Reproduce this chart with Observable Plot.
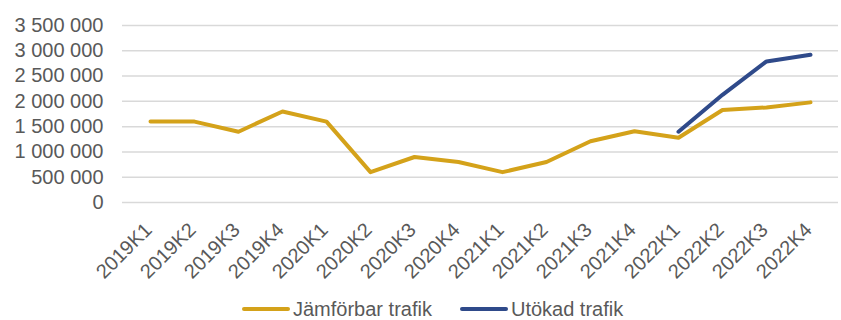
<!DOCTYPE html>
<html><head><meta charset="utf-8">
<script src="https://cdn.jsdelivr.net/npm/d3@7"></script>
<script src="https://cdn.jsdelivr.net/npm/@observablehq/plot@0.6"></script>
<style>
body{margin:0;background:#fff;font-family:"Liberation Sans",Arial,sans-serif;overflow:hidden;}
#chart svg{display:block}
#legend{display:flex;justify-content:flex-start;gap:28px;height:22px;line-height:22px;font-size:20px;color:#595959;padding-left:242px}
.item{display:flex;align-items:center}
.sw{width:48px;height:4px;border-radius:2px;margin-right:3px}
</style></head><body><div id="chart"></div><div id="legend"></div>
<script>
const quarters = ["2019K1","2019K2","2019K3","2019K4","2020K1","2020K2","2020K3","2020K4","2021K1","2021K2","2021K3","2021K4","2022K1","2022K2","2022K3","2022K4"];
const jamforbar = [1600000,1600000,1400000,1800000,1600000,600000,900000,800000,600000,800000,1210000,1410000,1280000,1830000,1880000,1980000];
const utokadQuarters = ["2022K1","2022K2","2022K3","2022K4"];
const utokad = [1400000,2130000,2790000,2920000];
const series = ["Jämförbar trafik","Utökad trafik"];
const colors = ["#D4A21A","#2F4A8A"];
const yTicks = [0,500000,1000000,1500000,2000000,2500000,3000000,3500000];

const data = [
  ...quarters.map((q,i)=>({q, v: jamforbar[i], s: series[0]})),
  ...utokadQuarters.map((q,i)=>({q, v: utokad[i], s: series[1]}))
];
const fmt = d => d3.format(",")(d).replace(/,/g, " ");

const chart = Plot.plot({
  width: 841, height: 298,
  marginLeft: 122, marginRight: 3, marginTop: 25, marginBottom: 96,
  style: {fontFamily: "Liberation Sans, Arial, sans-serif", fontSize: "20px", color: "#595959", background: "#fff"},
  x: {type: "point", domain: quarters, padding: 0.5},
  y: {domain: [0, 3500000]},
  color: {domain: series, range: colors},
  marks: [
    Plot.gridY(yTicks, {stroke: "#d9d9d9", strokeOpacity: 1, strokeWidth: 1.5}),
    Plot.axisY(yTicks, {tickSize: 0, tickPadding: 19, tickFormat: fmt, fontSize: 20, label: null}),
    Plot.axisX({tickSize: 0, tickRotate: -45, tickPadding: 24, dx: -2, fontSize: 20, label: null}),
    Plot.line(data, {x: "q", y: "v", z: "s", stroke: "s", strokeWidth: 4, strokeLinejoin: "round", strokeLinecap: "round"})
  ]
});
document.getElementById("chart").appendChild(chart);

const legend = document.getElementById("legend");
series.forEach((s,i) => {
  const it = document.createElement("div"); it.className = "item";
  const sw = document.createElement("span"); sw.className = "sw"; sw.style.background = colors[i];
  const t = document.createElement("span"); t.textContent = s;
  it.appendChild(sw); it.appendChild(t); legend.appendChild(it);
});
</script></body></html>
